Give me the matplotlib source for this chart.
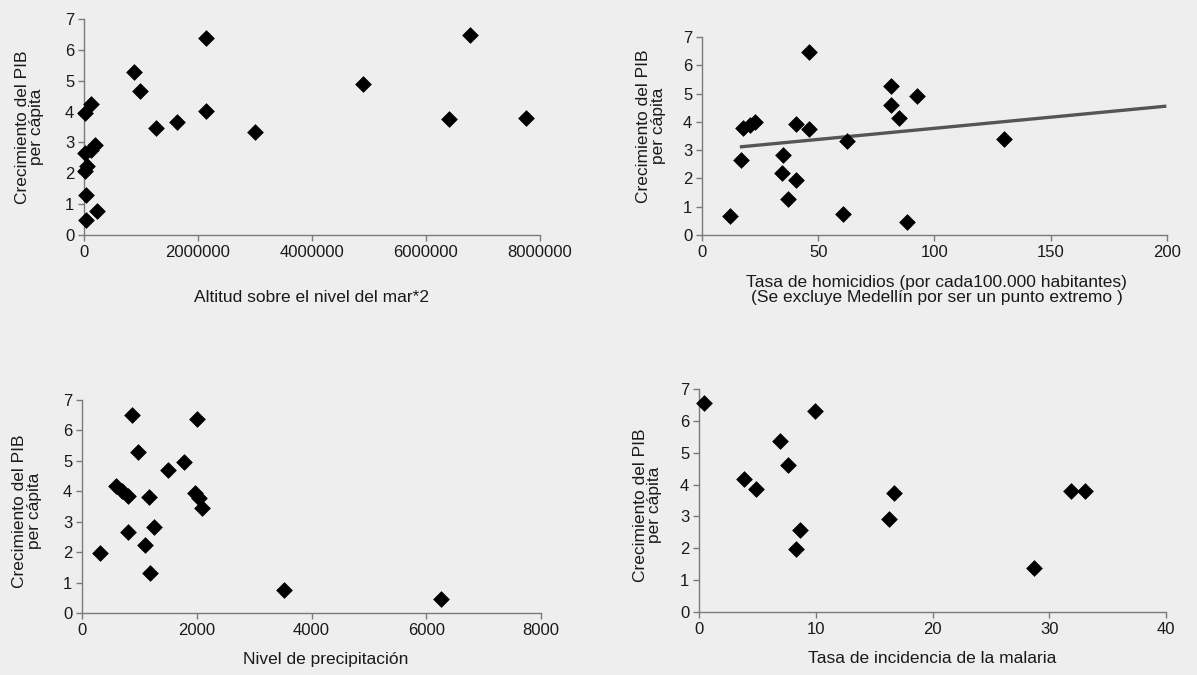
import matplotlib
matplotlib.use("Agg")
import matplotlib.pyplot as plt

# ---- data ----
growth_label = "Crecimiento del PIB\nper cápita"
y_ticks = [0, 1, 2, 3, 4, 5, 6, 7]

# panel 1: altitude^2 vs growth
alt_x = [30000, 220000, 30000, 20000, 60000, 20000, 130000, 200000, 20000, 130000,
         870000, 980000, 1270000, 1630000, 2140000, 2140000, 3000000, 4900000,
         6400000, 6770000, 7750000]
alt_y = [0.49, 0.79, 1.30, 2.08, 2.25, 2.65, 2.75, 2.92, 3.96, 4.24,
         5.29, 4.68, 3.46, 3.67, 6.40, 4.02, 3.34, 4.88,
         3.77, 6.49, 3.80]
alt_ticks = [0, 2000000, 4000000, 6000000, 8000000]
alt_labels = ["0", "2000000", "4000000", "6000000", "8000000"]

# panel 2: homicide rate vs growth (Medellin excluded)
hom_x = [12.0, 16.9, 17.8, 20.5, 22.9, 34.8, 34.5, 40.3, 36.9, 40.6, 45.9, 45.9,
         62.3, 60.5, 81.4, 81.5, 84.8, 92.3, 88.3, 130.0]
hom_y = [0.68, 2.65, 3.78, 3.90, 3.98, 2.82, 2.18, 1.96, 1.29, 3.91, 3.74, 6.47,
         3.32, 0.76, 5.26, 4.61, 4.15, 4.91, 0.47, 3.41]
hom_trend_x = [17, 199]
hom_trend_y = [3.12, 4.55]
hom_ticks = [0, 50, 100, 150, 200]

# panel 3: precipitation vs growth
rain_x = [319, 800, 1090, 1177, 1258, 1160, 597, 696, 794, 870, 968, 1507, 1786,
          2000, 1971, 2046, 2087, 3514, 6258]
rain_y = [1.98, 2.67, 2.23, 1.30, 2.81, 3.80, 4.17, 4.02, 3.84, 6.51, 5.30, 4.70, 4.97,
          6.37, 3.95, 3.77, 3.44, 0.77, 0.47]
rain_ticks = [0, 2000, 4000, 6000, 8000]

# panel 4: malaria incidence vs growth
mal_x = [0.43, 3.86, 4.86, 6.97, 7.63, 8.34, 8.69, 9.91, 16.3, 16.7, 28.7, 31.9, 33.1]
mal_y = [6.56, 4.18, 3.86, 5.37, 4.61, 1.97, 2.58, 6.32, 2.92, 3.72, 1.38, 3.80, 3.80]
mal_ticks = [0, 10, 20, 30, 40]

# ---- figure ----
W, H = 1197, 675
BG = "#eeeeee"
TXT = "#1a1a1a"
plt.rcParams["font.family"] = ["Liberation Sans", "DejaVu Sans"]

fig = plt.figure(figsize=(W / 100, H / 100), dpi=100, facecolor=BG)


def make_axes(left, right, top, bottom):
    # pixel box -> figure fraction
    return fig.add_axes([left / W, 1 - bottom / H, (right - left) / W, (bottom - top) / H])


def style(ax, xmax, xticks, xlabels, xlabel, xlabel_pos, ylabel_pos):
    ax.set_facecolor("none")
    for side in ("top", "right"):
        ax.spines[side].set_visible(False)
    for side in ("left", "bottom"):
        ax.spines[side].set_color("#7a7a7a")
        ax.spines[side].set_linewidth(1.0)
    ax.set_xlim(0, xmax)
    ax.set_ylim(0, 7)
    ax.set_xticks(xticks)
    ax.set_xticklabels(xlabels)
    ax.set_yticks(y_ticks)
    ax.tick_params(axis="both", direction="out", length=4, width=1.0,
                   color="#7a7a7a", labelsize=12, labelcolor=TXT, pad=3)
    ax.set_ylabel(growth_label, fontsize=12.5, color=TXT, linespacing=0.95)
    ax.yaxis.set_label_coords(*ylabel_pos)
    ax.yaxis.label.set_va("center")
    ax.set_xlabel(xlabel, fontsize=12.5, color=TXT, linespacing=1.0)
    ax.xaxis.set_label_coords(*xlabel_pos)
    ax.xaxis.label.set_va("center")


def diamonds(ax, x, y):
    ax.scatter(x, y, marker="D", s=64, color="black", edgecolors="black",
               linewidths=0.5, zorder=3, clip_on=False)


ax1 = make_axes(84, 540, 19, 235)
style(ax1, 8000000, alt_ticks, alt_labels, "Altitud sobre el nivel del mar*2",
      (0.5, -0.29), (-0.12, 0.5))
diamonds(ax1, alt_x, alt_y)

ax2 = make_axes(702, 1167, 37, 235)
style(ax2, 200, hom_ticks, [str(t) for t in hom_ticks],
      "Tasa de homicidios (por cada100.000 habitantes)\n(Se excluye Medellín por ser un punto extremo )",
      (0.505, -0.28), (-0.11, 0.55))
ax2.plot(hom_trend_x, hom_trend_y, color="#555555", linewidth=2.4, zorder=2)
diamonds(ax2, hom_x, hom_y)

ax3 = make_axes(82, 541, 400, 613)
style(ax3, 8000, rain_ticks, [str(t) for t in rain_ticks], "Nivel de precipitación",
      (0.53, -0.22), (-0.12, 0.48))
diamonds(ax3, rain_x, rain_y)

ax4 = make_axes(699, 1166, 389, 612)
style(ax4, 40, mal_ticks, [str(t) for t in mal_ticks], "Tasa de incidencia de la malaria",
      (0.5, -0.21), (-0.11, 0.48))
diamonds(ax4, mal_x, mal_y)

fig.savefig("out.png", dpi=100, facecolor=BG)
